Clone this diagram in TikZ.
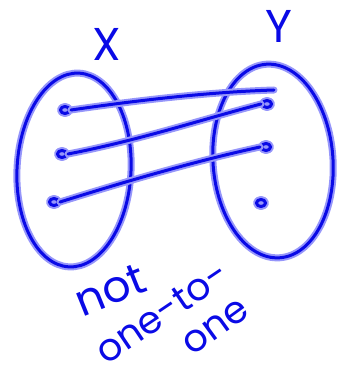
\documentclass[tikz,border=0pt]{standalone}
\usepackage{fontspec}
\setmainfont{Poppins}
\usetikzlibrary{shapes.geometric}
\definecolor{ink}{RGB}{10,10,230}
\definecolor{halo}{RGB}{150,150,250}
\tikzset{
  hand/.style={draw=ink, line width=3pt, line cap=round, line join=round,
    preaction={draw=halo, line width=7pt, line cap=round, line join=round}},
  setshape/.style={ellipse, hand, inner sep=0pt},
  dotn/.style={ellipse, hand, minimum width=9pt, minimum height=7pt, inner sep=0pt},
  lbl/.style={text=ink, inner sep=0pt, font=\fontsize{38}{38}\selectfont},
}
\begin{document}
\begin{tikzpicture}[x=1pt,y=-1pt]
\useasboundingbox (0,0) rectangle (340,371);
% sets
\node[setshape, minimum width=114pt, minimum height=194pt, rotate=-3] (X) at (74,170) {};
\node[setshape, minimum width=120pt, minimum height=194pt, rotate=4] (Y) at (273,161) {};
% set labels
\node[lbl, font=\fontsize{46}{46}\selectfont] (lx) at (107,44) {X};
\node[lbl, font=\fontsize{46}{46}\selectfont] (ly) at (279,26) {Y};
% elements
\node[dotn] (l1) at (65,110) {};
\node[dotn] (l2) at (62,154) {};
\node[dotn] (l3) at (54,202) {};
\node[dotn] (r1) at (267,104) {};
\node[dotn] (r2) at (266,147) {};
\node[dotn] (r3) at (261,203) {};
\coordinate (r1top) at (274,90);
% mapping
\draw[hand] (l1.east) .. controls (140,100) and (210,92) .. (r1top);
\draw[hand] (l2.east) .. controls (140,140) and (200,120) .. (r1.west);
\draw[hand] (l3.east) .. controls (130,180) and (200,160) .. (r2.west);
% caption
\node[lbl, rotate=22, font=\fontsize{44}{44}\selectfont] (t1) at (110,290) {not};
\node[lbl, rotate=34] (t2) at (162,312) {one-to-};
\node[lbl, rotate=36] (t3) at (216,327) {one};
\end{tikzpicture}
\end{document}
